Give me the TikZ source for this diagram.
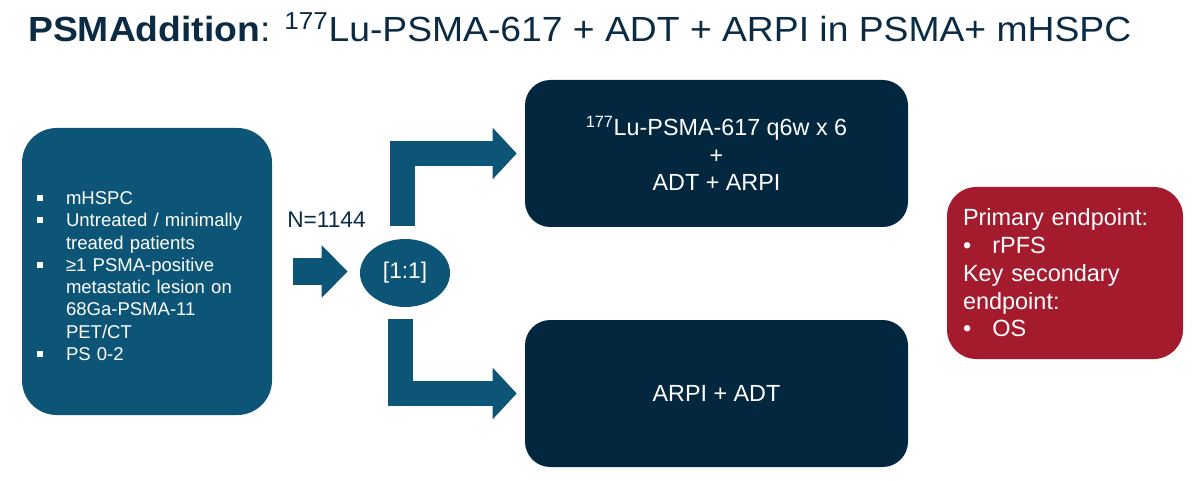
\documentclass[tikz,border=0pt]{standalone}
\usepackage{fontspec}
\setmainfont{Liberation Sans}
\usetikzlibrary{shapes.geometric, arrows.meta, positioning, calc}
\usepackage{xcolor}
\definecolor{TrialNavy}{HTML}{03273F}
\definecolor{TrialBlue}{HTML}{0D5576}
\definecolor{TrialRed}{HTML}{A51B2E}
\definecolor{TrialTitle}{HTML}{0B2B45}
\definecolor{TrialWhite}{HTML}{FFFFFF}
\tikzset{
    % Box styles
    cohort/.style={
        rectangle,
        rounded corners=26pt,
        fill=TrialBlue,
        text=TrialWhite,
        inner sep=0pt,
        minimum width=187.5pt,
        minimum height=215.25pt,
        text width=165pt,
        align=left,
        font=\fontsize{13.9pt}{16.7pt}\selectfont
    },
    arm/.style={
        rectangle,
        rounded corners=19pt,
        fill=TrialNavy,
        text=TrialWhite,
        inner sep=0pt,
        minimum width=287.25pt,
        minimum height=110.25pt,
        align=center,
        font=\fontsize{17.5pt}{20.6pt}\selectfont
    },
    endpoint/.style={
        rectangle,
        rounded corners=22pt,
        fill=TrialRed,
        text=TrialWhite,
        inner sep=0pt,
        minimum width=177pt,
        minimum height=129pt,
        text width=153pt,
        align=left,
        font=\fontsize{17.6pt}{20.8pt}\selectfont
    },
    randomise/.style={
        ellipse,
        fill=TrialBlue,
        text=TrialWhite,
        inner sep=0pt,
        minimum width=67.5pt,
        minimum height=51pt,
        font=\fontsize{17pt}{17pt}\selectfont
    },
    % Arrow styles - block arrows
    blockarrow/.style={
        -{Triangle[length=18pt,width=37.5pt]},
        line width=18.75pt,
        line join=miter,
        draw=TrialBlue
    }
}
\newcommand{\sqitem}[1]{\par\noindent\hangindent=21.75pt\makebox[21.75pt][l]{\rule[2.9pt]{4.2pt}{4.2pt}}#1}
\newcommand{\dotitem}[1]{\par\noindent\hangindent=22pt\makebox[22pt][l]{•}#1}

\begin{document}
\begin{tikzpicture}[x=0.75pt, y=-0.75pt]
    \useasboundingbox (0,0) rectangle (1200,481);

    % Title
    \node[anchor=base west, inner sep=0pt, text=TrialTitle,
          font=\fontsize{26.2pt}{30pt}\selectfont] (title) at (28,42)
        {\scalebox{1.067}[1]{\textbf{PSMAddition}: \textsuperscript{177}Lu-PSMA-617 + ADT + ARPI in PSMA+ mHSPC}};

    % Population
    \node[cohort] (cohort) at (147,271.5) {%
        \sqitem{mHSPC}
        \sqitem{Untreated / minimally\newline treated patients}
        \sqitem{≥1 PSMA-positive\newline metastatic lesion on\newline 68Ga-PSMA-11\newline PET/CT}
        \sqitem{PS 0-2}};

    % Randomisation
    \node[randomise] (rand) at (405,273) {[1:1]};
    \node[anchor=base west, inner sep=0pt, text=TrialTitle,
          font=\fontsize{17pt}{17pt}\selectfont] (size) at (287,228) {N=1144};

    % Arms
    \node[arm] (arm1) at (716.5,153.5) {\textsuperscript{177}Lu-PSMA-617 q6w x 6\\+\\ADT + ARPI};
    \node[arm] (arm2) at (716.5,393.5) {ARPI + ADT};

    % Endpoints
    \node[endpoint] (endpt) at (1065,273) {%
        \noindent Primary endpoint:
        \dotitem{rPFS}
        \par\noindent Key secondary\\endpoint:
        \dotitem{OS}};

    % Arrows
    \draw[blockarrow, line width=20pt, -{Triangle[length=19.5pt,width=38pt]},
          shorten <=15.75pt, shorten >=9pt]
        (cohort.east) -- (cohort.east -| rand.west);
    \draw[blockarrow, shorten >=6pt]
        ([xshift=-2.25pt, yshift=9.75pt]rand.north) |- (arm1.west);
    \draw[blockarrow, shorten >=6pt]
        ([xshift=-3.75pt, yshift=-9pt]rand.south) |- (arm2.west);
\end{tikzpicture}
\end{document}
